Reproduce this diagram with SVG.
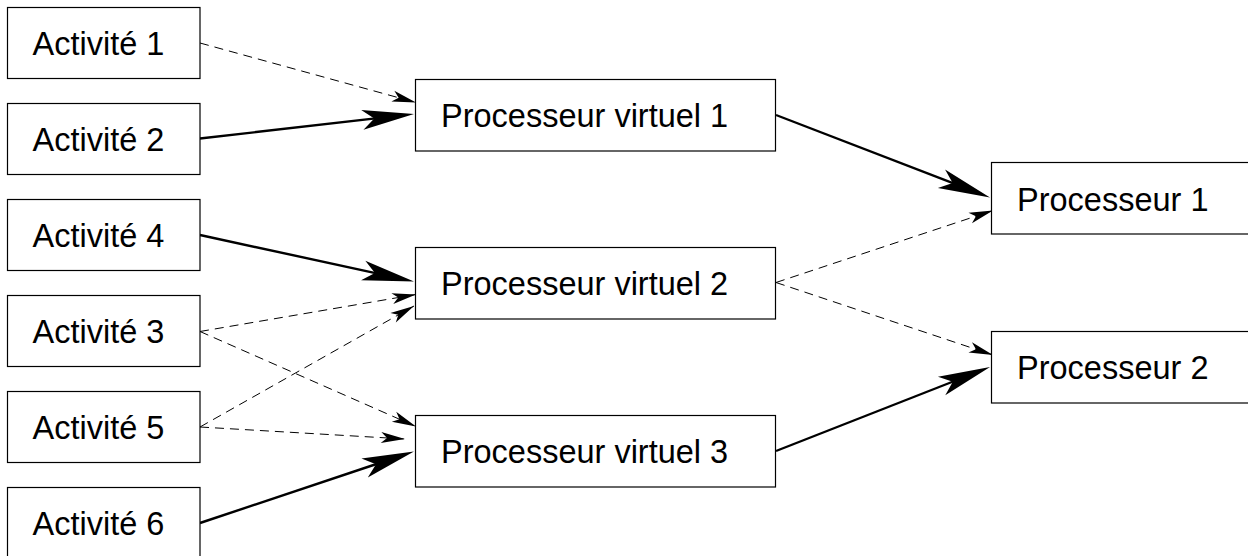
<svg xmlns="http://www.w3.org/2000/svg" width="1248" height="556" viewBox="0 0 1248 556">
<style>
  .box { fill: #fff; stroke: #000; stroke-width: 1.2; }
  .lbl { font-family: "Liberation Sans", Arial, sans-serif; font-size: 32.5px; fill: #000; }
  .solid { fill: none; stroke: #000; stroke-width: 2.4; marker-end: url(#headSolid); }
  .dash { fill: none; stroke: #000; stroke-width: 1; stroke-dasharray: 9 6; marker-end: url(#headDash); }
</style>
<defs>
  <marker id="headSolid" markerUnits="userSpaceOnUse" orient="auto" refX="0" refY="0" markerWidth="10" markerHeight="10" overflow="visible">
    <path d="M30,0 L-22,-10 L-10,0 L-22,10 Z" fill="#000" stroke="none"/>
  </marker>
  <marker id="headDash" markerUnits="userSpaceOnUse" orient="auto" refX="0" refY="0" markerWidth="10" markerHeight="10" overflow="visible">
    <path d="M0,0 L-24,-5.5 L-18,0 L-24,5.5 Z" fill="#000" stroke="none"/>
  </marker>
</defs>
<rect width="1248" height="556" fill="#fff"/>

<g id="connectors">
  <line class="dash" x1="200" y1="43" x2="416" y2="102.5"/>
  <line class="solid" x1="200" y1="138.5" x2="384.2" y2="117.4"/>
  <line class="solid" x1="200" y1="235" x2="384.7" y2="275.1"/>
  <line class="dash" x1="200" y1="331.5" x2="416" y2="294.5"/>
  <line class="dash" x1="200" y1="331.5" x2="416" y2="426.5"/>
  <line class="dash" x1="200" y1="427" x2="414" y2="306"/>
  <line class="dash" x1="200" y1="427" x2="405" y2="439"/>
  <line class="solid" x1="200" y1="523" x2="385.5" y2="461"/>
  <line class="solid" x1="776" y1="115" x2="962" y2="186.7"/>
  <line class="dash" x1="776" y1="282.5" x2="993" y2="210.5"/>
  <line class="dash" x1="776" y1="282.5" x2="993" y2="355"/>
  <line class="solid" x1="776" y1="451" x2="962.1" y2="378"/>
</g>

<g id="act1"><rect class="box" x="7.5" y="7.5" width="192.5" height="71"/><text class="lbl" x="32.5" y="55">Activité 1</text></g>
<g id="act2"><rect class="box" x="7.5" y="103.5" width="192.5" height="71"/><text class="lbl" x="32.5" y="151">Activité 2</text></g>
<g id="act4"><rect class="box" x="7.5" y="199.5" width="192.5" height="71"/><text class="lbl" x="32.5" y="247">Activité 4</text></g>
<g id="act3"><rect class="box" x="7.5" y="295.5" width="192.5" height="71"/><text class="lbl" x="32.5" y="343">Activité 3</text></g>
<g id="act5"><rect class="box" x="7.5" y="391.5" width="192.5" height="71"/><text class="lbl" x="32.5" y="439">Activité 5</text></g>
<g id="act6"><rect class="box" x="7.5" y="487.5" width="192.5" height="71"/><text class="lbl" x="32.5" y="535">Activité 6</text></g>

<g id="pv1"><rect class="box" x="415.5" y="79.5" width="360" height="71.5"/><text class="lbl" x="441" y="127">Processeur virtuel 1</text></g>
<g id="pv2"><rect class="box" x="415.5" y="247.5" width="360" height="71.5"/><text class="lbl" x="441" y="295">Processeur virtuel 2</text></g>
<g id="pv3"><rect class="box" x="415.5" y="415.5" width="360" height="71.5"/><text class="lbl" x="441" y="463">Processeur virtuel 3</text></g>

<g id="proc1"><rect class="box" x="991.5" y="162.5" width="270" height="71.5"/><text class="lbl" x="1017" y="210.5">Processeur 1</text></g>
<g id="proc2"><rect class="box" x="991.5" y="331.5" width="270" height="71.5"/><text class="lbl" x="1017" y="379">Processeur 2</text></g>
</svg>
